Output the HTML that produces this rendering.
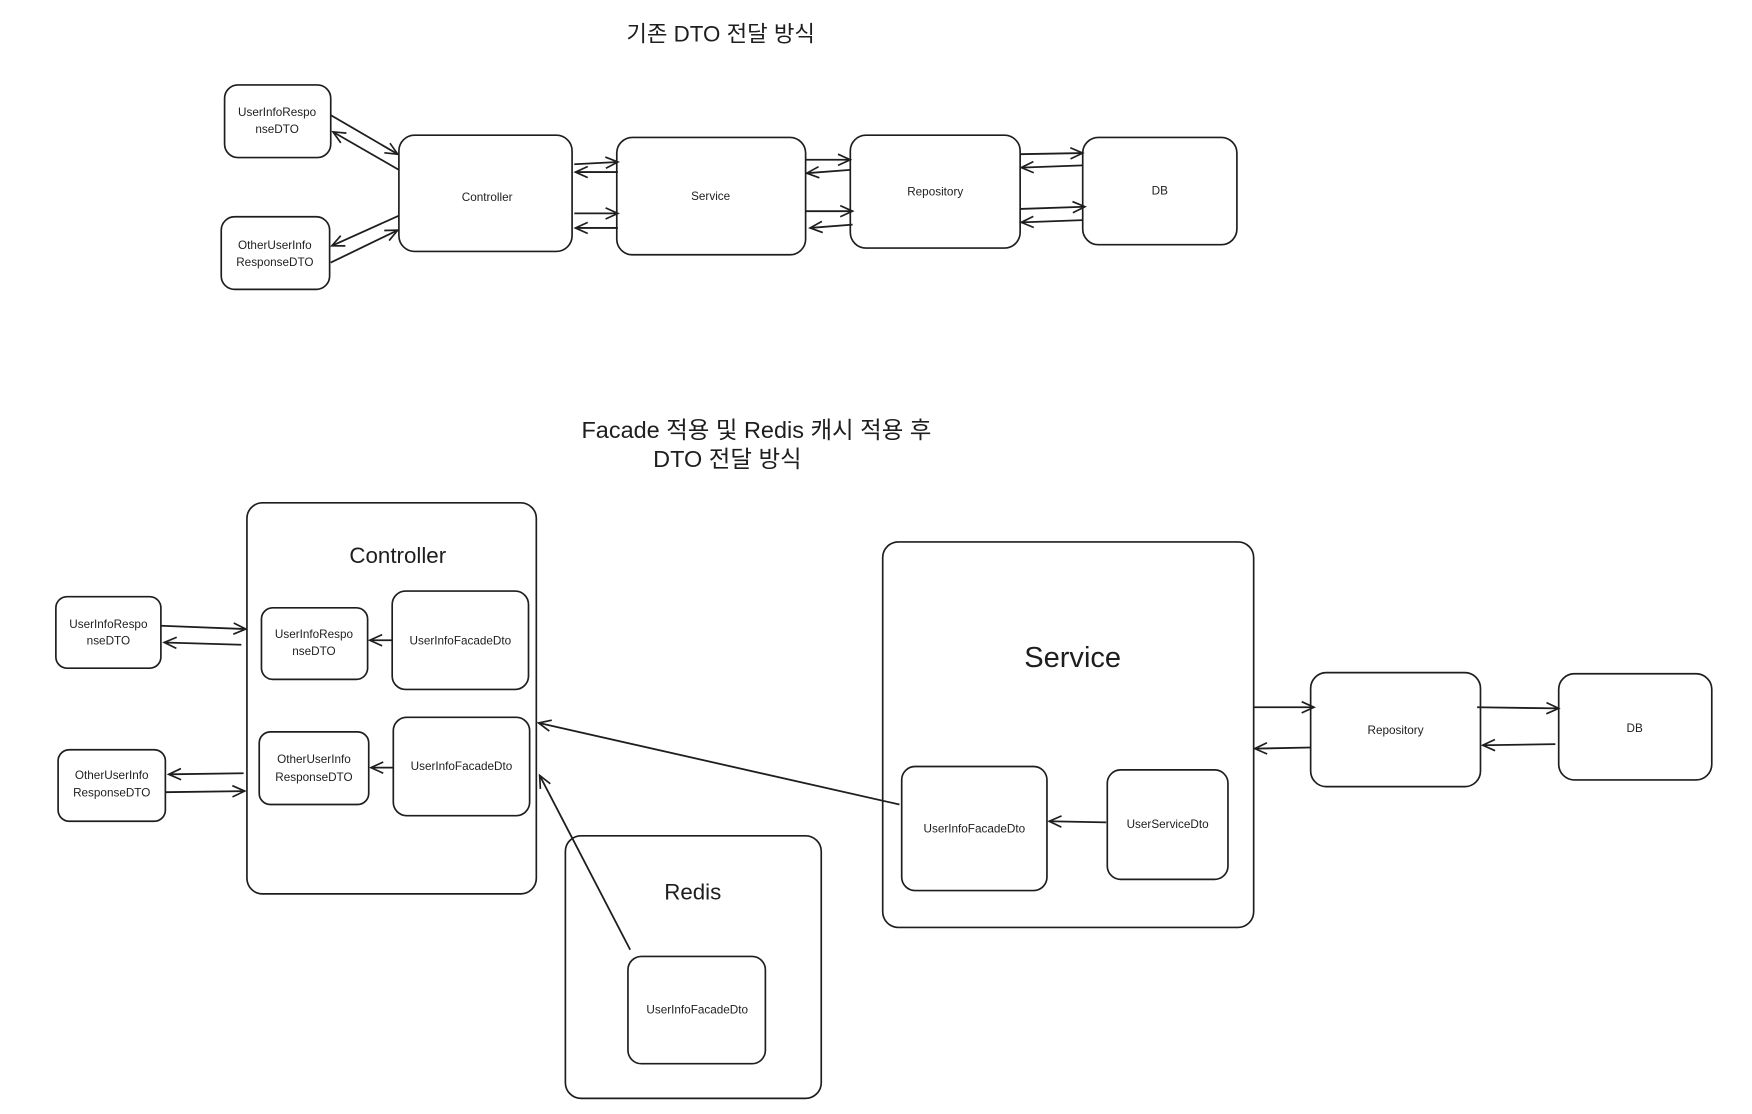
<!DOCTYPE html>
<html><head><meta charset="utf-8"><style>
html,body{margin:0;padding:0;background:#fff;}
svg{display:block;}
text{font-family:"Liberation Sans","Noto Sans CJK KR",sans-serif;fill:#1e1e1e;text-anchor:middle;}
.b{fill:#fff;stroke:#1e1e1e;stroke-width:1.5;}
.l{stroke:#1e1e1e;stroke-width:1.6;fill:none;}
.s{font-size:10.5px;}
</style></head><body>
<svg width="1752" height="1114" viewBox="0 0 1568 997" preserveAspectRatio="none" xmlns="http://www.w3.org/2000/svg">
<defs><marker id="a" markerWidth="14" markerHeight="12" refX="12" refY="6" orient="auto" markerUnits="userSpaceOnUse"><path d="M1,1 L12,6 L1,11" fill="none" stroke="#1e1e1e" stroke-width="1.5"/></marker></defs>

<text x="645" y="37" style="font-size:20px">기존 DTO 전달 방식</text>

<rect class="b" x="201" y="76" width="95" height="65" rx="12"/>
<text class="s" x="248" y="104">UserInfoRespo</text><text class="s" x="248" y="119">nseDTO</text>
<rect class="b" x="198" y="194" width="97" height="65" rx="12"/>
<text class="s" x="246" y="223">OtherUserInfo</text><text class="s" x="246" y="238">ResponseDTO</text>
<rect class="b" x="357" y="121" width="155" height="104" rx="14"/>
<text class="s" x="436" y="180">Controller</text>
<rect class="b" x="552" y="123" width="169" height="105" rx="14"/>
<text class="s" x="636" y="179">Service</text>
<rect class="b" x="761" y="121" width="152" height="101" rx="14"/>
<text class="s" x="837" y="175">Repository</text>
<rect class="b" x="969" y="123" width="138" height="96" rx="14"/>
<text class="s" x="1038" y="174">DB</text>

<line class="l" x1="296" y1="103" x2="356" y2="138" marker-end="url(#a)"/>
<line class="l" x1="357" y1="152" x2="298" y2="118" marker-end="url(#a)"/>
<line class="l" x1="357" y1="193" x2="297" y2="220" marker-end="url(#a)"/>
<line class="l" x1="296" y1="235" x2="356" y2="206" marker-end="url(#a)"/>
<line class="l" x1="514" y1="147" x2="553" y2="145" marker-end="url(#a)"/>
<line class="l" x1="553" y1="154" x2="515" y2="154" marker-end="url(#a)"/>
<line class="l" x1="514" y1="191" x2="553" y2="191" marker-end="url(#a)"/>
<line class="l" x1="553" y1="204" x2="515" y2="204" marker-end="url(#a)"/>
<line class="l" x1="721" y1="143" x2="761" y2="143" marker-end="url(#a)"/>
<line class="l" x1="761" y1="152" x2="722" y2="155" marker-end="url(#a)"/>
<line class="l" x1="721" y1="189" x2="763" y2="189" marker-end="url(#a)"/>
<line class="l" x1="763" y1="201" x2="725" y2="204" marker-end="url(#a)"/>
<line class="l" x1="913" y1="138" x2="969" y2="137" marker-end="url(#a)"/>
<line class="l" x1="969" y1="148" x2="914" y2="150" marker-end="url(#a)"/>
<line class="l" x1="913" y1="187" x2="971" y2="185" marker-end="url(#a)"/>
<line class="l" x1="969" y1="197" x2="914" y2="199" marker-end="url(#a)"/>

<text x="677" y="392" style="font-size:21px">Facade 적용 및 Redis 캐시 적용 후</text>
<text x="651" y="418" style="font-size:21px">DTO 전달 방식</text>

<rect class="b" x="221" y="450" width="259" height="350" rx="14"/>
<text x="356" y="504" style="font-size:20px">Controller</text>
<rect class="b" x="234" y="544" width="95" height="64" rx="10"/>
<text class="s" x="281" y="571">UserInfoRespo</text><text class="s" x="281" y="586">nseDTO</text>
<rect class="b" x="351" y="529" width="122" height="88" rx="12"/>
<text class="s" x="412" y="577">UserInfoFacadeDto</text>
<rect class="b" x="232" y="655" width="98" height="65" rx="10"/>
<text class="s" x="281" y="683">OtherUserInfo</text><text class="s" x="281" y="699">ResponseDTO</text>
<rect class="b" x="352" y="642" width="122" height="88" rx="12"/>
<text class="s" x="413" y="689">UserInfoFacadeDto</text>
<line class="l" x1="351" y1="573" x2="331" y2="573" marker-end="url(#a)"/>
<line class="l" x1="352" y1="687" x2="332" y2="687" marker-end="url(#a)"/>

<rect class="b" x="50" y="534" width="94" height="64" rx="10"/>
<text class="s" x="97" y="562">UserInfoRespo</text><text class="s" x="97" y="577">nseDTO</text>
<rect class="b" x="52" y="671" width="96" height="64" rx="10"/>
<text class="s" x="100" y="697">OtherUserInfo</text><text class="s" x="100" y="713">ResponseDTO</text>
<line class="l" x1="144" y1="560" x2="220" y2="563" marker-end="url(#a)"/>
<line class="l" x1="216" y1="577" x2="147" y2="575" marker-end="url(#a)"/>
<line class="l" x1="218" y1="692" x2="151" y2="693" marker-end="url(#a)"/>
<line class="l" x1="148" y1="709" x2="219" y2="708" marker-end="url(#a)"/>

<rect class="b" x="506" y="748" width="229" height="235" rx="14"/>
<text x="620" y="805" style="font-size:20px">Redis</text>
<rect class="b" x="562" y="856" width="123" height="96" rx="12"/>
<text class="s" x="624" y="907">UserInfoFacadeDto</text>
<line class="l" x1="564" y1="850" x2="483" y2="694" marker-end="url(#a)"/>

<rect class="b" x="790" y="485" width="332" height="345" rx="14"/>
<text x="960" y="597" style="font-size:26px">Service</text>
<rect class="b" x="807" y="686" width="130" height="111" rx="12"/>
<text class="s" x="872" y="745">UserInfoFacadeDto</text>
<rect class="b" x="991" y="689" width="108" height="98" rx="12"/>
<text class="s" x="1045" y="741">UserServiceDto</text>
<line class="l" x1="990" y1="736" x2="939" y2="735" marker-end="url(#a)"/>
<line class="l" x1="805" y1="720" x2="482" y2="647" marker-end="url(#a)"/>

<rect class="b" x="1173" y="602" width="152" height="102" rx="14"/>
<text class="s" x="1249" y="657">Repository</text>
<rect class="b" x="1395" y="603" width="137" height="95" rx="14"/>
<text class="s" x="1463" y="655">DB</text>
<line class="l" x1="1122" y1="633" x2="1176" y2="633" marker-end="url(#a)"/>
<line class="l" x1="1173" y1="669" x2="1123" y2="670" marker-end="url(#a)"/>
<line class="l" x1="1322" y1="633" x2="1395" y2="634" marker-end="url(#a)"/>
<line class="l" x1="1392" y1="666" x2="1327" y2="667" marker-end="url(#a)"/>
</svg>
</body></html>
